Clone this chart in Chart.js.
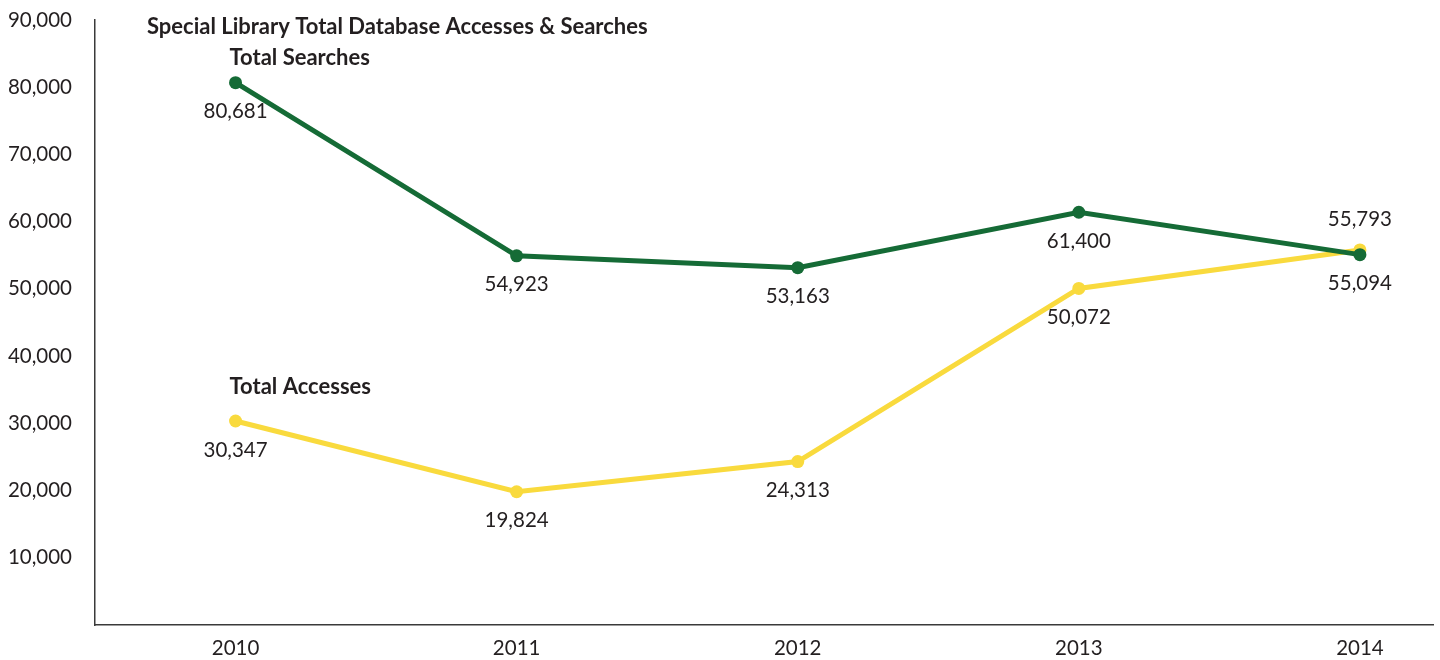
<!DOCTYPE html>
<html><head><meta charset="utf-8">
<script src="https://cdn.jsdelivr.net/npm/chart.js@4/dist/chart.umd.min.js"></script>
<style>html,body{margin:0;padding:0;background:#fff}#wrap{width:1440px;height:660px}</style>
</head><body><div id="wrap"><canvas id="c" width="1440" height="660"></canvas></div>
<script>
const years = [2010, 2011, 2012, 2013, 2014];
const searches = [80681, 54923, 53163, 61400, 55094];
const accesses = [30347, 19824, 24313, 50072, 55793];
const searchLabelSide = ['below','below','below','below','below'];
const accessLabelSide = ['below','below','below','below','above'];
const yTicks = [0,10000,20000,30000,40000,50000,60000,70000,80000,90000];
const titleText = 'Special Library Total Database Accesses & Searches';
const seriesNames = ['Total Searches','Total Accesses'];

const FONT = 'Lato, "Open Sans", sans-serif';
const TXT = '#231F20';
const GREEN = '#156B36';
const YELLOW = '#F9DA3D';
const fmt = v => v.toLocaleString('en-US');

const annot = {
  id: 'annot',
  afterDatasetsDraw(chart) {
    const ctx = chart.ctx;
    ctx.save();
    ctx.fillStyle = TXT;
    ctx.font = '20.5px ' + FONT;
    ctx.textAlign = 'center';
    ctx.textBaseline = 'middle';
    chart.data.datasets.forEach((ds, i) => {
      const meta = chart.getDatasetMeta(i);
      meta.data.forEach((pt, j) => {
        const side = ds.sides[j];
        const dy = side === 'above' ? -31 : 29;
        ctx.fillText(fmt(ds.data[j].y), pt.x, pt.y + dy);
      });
    });
    ctx.font = 'bold 22px ' + FONT;
    ctx.textAlign = 'left';
    chart.data.datasets.forEach((ds, i) => {
      const pt = chart.getDatasetMeta(i).data[0];
      ctx.fillText(ds.label, pt.x - 6, pt.y + ds.nameDy);
    });
    ctx.fillText(titleText, chart.chartArea.left + 52, 27);
    ctx.restore();
  }
};

new Chart(document.getElementById('c'), {
  type: 'line',
  data: {
    datasets: [
      { label: seriesNames[0], data: years.map((y,i)=>({x:y,y:searches[i]})), sides: searchLabelSide, nameDy: -25,
        borderColor: GREEN, backgroundColor: GREEN, borderWidth: 5, pointRadius: 6.5, pointHoverRadius: 6.5, pointBorderWidth: 0, tension: 0 },
      { label: seriesNames[1], data: years.map((y,i)=>({x:y,y:accesses[i]})), sides: accessLabelSide, nameDy: -34,
        borderColor: YELLOW, backgroundColor: YELLOW, borderWidth: 5, pointRadius: 6.5, pointHoverRadius: 6.5, pointBorderWidth: 0, tension: 0 }
    ]
  },
  options: {
    responsive: false,
    animation: false,
    layout: { autoPadding: false, padding: { top: 20, right: 7, left: 0, bottom: 0 } },
    plugins: { legend: { display: false }, tooltip: { enabled: false }, title: { display: false } },
    scales: {
      x: {
        type: 'linear', min: 2009.5, max: 2014.26,
        afterBuildTicks: s => { s.ticks = years.map(v => ({ value: v })); },
        afterFit: s => { s.height = 35; s.paddingLeft = 0; s.paddingRight = 0; },
        grid: { display: false, drawTicks: false },
        border: { display: true, color: '#3a3a3a', width: 1.5 },
        ticks: { color: TXT, font: { family: FONT, size: 20.5 }, padding: 11, callback: v => String(v), maxRotation: 0, autoSkip: false }
      },
      y: {
        min: 0, max: 90000,
        afterBuildTicks: s => { s.ticks = yTicks.map(v => ({ value: v })); },
        afterFit: s => { s.width = 95; s.paddingTop = 0; s.paddingBottom = 0; },
        grid: { display: false, drawTicks: false },
        border: { display: true, color: '#3a3a3a', width: 1.5 },
        ticks: { color: TXT, font: { family: FONT, size: 20.5 }, padding: 23, callback: v => v === 0 ? '' : fmt(v) }
      }
    }
  },
  plugins: [annot]
});
</script>
</body></html>
